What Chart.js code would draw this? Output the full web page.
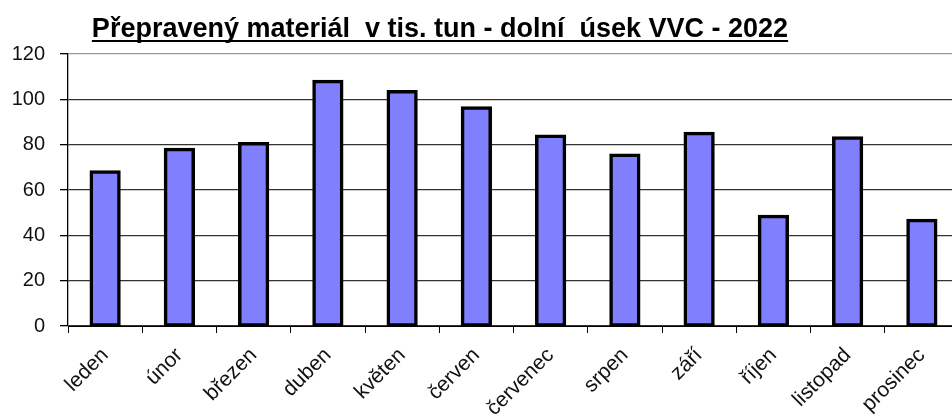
<!DOCTYPE html>
<html>
<head>
<meta charset="utf-8">
<script src="https://cdn.jsdelivr.net/npm/chart.js@4"></script>
<style>
  html, body { margin: 0; padding: 0; background: #fff; overflow: hidden; }
  #wrap { width: 959px; height: 419px; }
</style>
</head>
<body>
<div id="wrap"><canvas id="materialChart"></canvas></div>
<script>
var months = ['leden', 'únor', 'březen', 'duben', 'květen', 'červen', 'červenec', 'srpen', 'září', 'říjen', 'listopad', 'prosinec'];
var tonnes = [68, 78, 80.5, 108, 103.5, 96.3, 83.8, 75.4, 85, 48.4, 83, 46.6];
var yTicks = [0, 20, 40, 60, 80, 100, 120];
var chartTitle = 'Přepravený materiál  v tis. tun - dolní  úsek VVC - 2022';

// title is underlined, so draw it by hand
var underlinedTitle = {
    id: 'underlinedTitle',
    afterDraw: function (chart) {
        var c = chart.ctx;
        c.save();
        c.font = 'bold 27px "Liberation Sans", Arial, sans-serif';
        c.fillStyle = '#000';
        c.textAlign = 'center';
        c.textBaseline = 'alphabetic';
        var cx = 440, base = 37;
        c.fillText(chartTitle, cx, base);
        var w = c.measureText(chartTitle).width;
        c.fillRect(cx - w / 2, base + 3, w, 2);
        c.restore();
    }
};

var ctx = document.getElementById('materialChart').getContext('2d');

new Chart(ctx, {
    type: 'bar',
    data: {
        labels: months,
        datasets: [{
            data: tonnes,
            backgroundColor: '#8080FF',
            borderColor: '#000000',
            borderWidth: 3.5,
            borderSkipped: false,
            inflateAmount: 1.5,
            barPercentage: 0.38,
            categoryPercentage: 1,
        }],
    },
    plugins: [underlinedTitle],
    options: {
        responsive: true,
        maintainAspectRatio: false,
        animation: false,
        layout: { padding: { top: 54, right: 0, left: 0, bottom: 0 } },
        plugins: {
            legend: { display: false },
            tooltip: { enabled: false },
        },
        scales: {
            x: {
                afterFit: function (axis) { axis.height = 93; },
                grid: {
                    offset: true,
                    drawOnChartArea: false,
                    drawTicks: true,
                    tickLength: 7,
                    color: '#000',
                },
                border: { color: '#000', width: 1 },
                ticks: {
                    maxRotation: 45,
                    minRotation: 45,
                    padding: 10,
                    color: '#111',
                    font: { family: '"Liberation Sans", Arial, sans-serif', size: 21 },
                },
            },
            y: {
                min: 0,
                max: 120,
                afterFit: function (axis) { axis.width = 68; },
                afterBuildTicks: function (axis) {
                    axis.ticks = yTicks.map(v => ({ value: v }));
                },
                grid: {
                    color: function (c) { return c.tick && c.tick.value === 120 ? '#999' : '#333'; },
                    tickColor: '#000',
                    tickLength: 8,
                    lineWidth: 1.3,
                },
                border: { color: '#000', width: 1.3 },
                ticks: {
                    padding: 15,
                    color: '#111',
                    font: { family: '"Liberation Sans", Arial, sans-serif', size: 20 },
                },
            },
        },
    },
});
</script>
</body>
</html>
